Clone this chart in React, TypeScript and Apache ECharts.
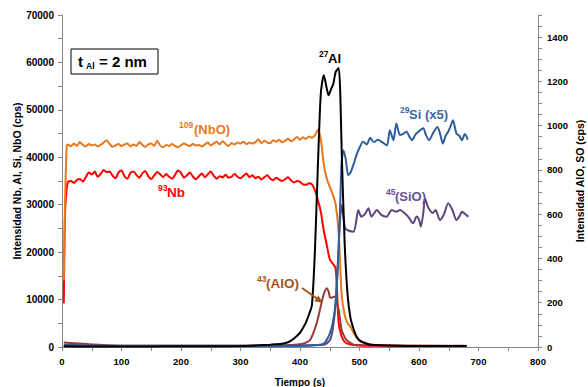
import { useEffect, useRef } from "react";
import * as echarts from "echarts";

// ---------- time grids (s) ----------
const grid = (a: number, b: number, s: number) => {
  const out: number[] = [];
  for (let t = a; t <= b; t += s) out.push(t);
  return out;
};

const timeNb = [3, 5, 8, ...grid(10, 500, 5), 510, 520, 560, 600, 640, 680];

// 93Nb (left axis, cps)
const nbValues = [
  9200, 28000, 33500,
  34800, 35000, 34600, 35200, 35400, 34900, 35800, 36800, 36400, 37000,
  35900, 36500, 37300, 36900, 37000, 36100, 35600, 36800, 37200, 36000,
  35500, 36700, 37000, 36300, 35700, 36600, 37100, 36000, 35400, 36200,
  36900, 36400, 35800, 36500, 35900, 35500, 36300, 37200, 36700, 35700,
  36200, 36800, 35900, 35400, 36000, 36600, 35800, 36400, 37000, 36100,
  35500, 36000, 35800, 36300, 35700, 35900, 36500, 35900, 35600, 36100,
  36600, 35800, 36200, 35600, 35900, 35300, 35800, 36200, 35500, 35200,
  35700, 35300, 35000, 35400, 35800, 35100, 34700, 35000, 34800, 34300,
  34200, 34500, 34300, 33100, 31000, 28500, 24500, 21500, 18500, 17600,
  16500, 5000, 2200, 1100, 700, 500, 400, 350, 300,
  280, 250, 230, 220, 210, 200,
];

// 109(NbO) (left axis, cps)
const nboValues = [
  14000, 30000, 42500,
  42700, 42300, 42900, 42400, 43200, 42600, 42300, 42800, 42500, 42700,
  42300, 42600, 43100, 43600, 42800, 42200, 42500, 42800, 42400, 42700,
  42900, 42300, 42700, 42400, 43200, 42600, 42200, 42700, 42900, 42400,
  43500, 42500, 42100, 42600, 42400, 42800, 42400, 42100, 42500, 42900,
  42600, 42400, 42800, 42500, 42600, 42300, 42700, 43100, 42500, 42900,
  43300, 42700, 43400, 42800, 42400, 43000, 42700, 43100, 42900, 43300,
  42800, 43100, 42900, 43200, 43800, 43000, 43500, 43100, 43000, 43600,
  43300, 43700, 43100, 43500, 43900, 43400, 43800, 44300, 43700, 44200,
  43900, 44400, 44100, 44600, 45800, 43800, 38500, 35500, 33800, 32200,
  30000, 24000, 11000, 6800, 5000, 4200, 3000, 2000, 1300,
  800, 500, 300, 250, 230, 220,
];

// 27Al (left axis, cps)
const timeAl = [3, 50, 100, 150, 200, 250, 300, 330, 350, 370, 380, 390, 400, 405, 410, 415, 420, 425, 430, 435, 440, 445, 448, 452, 456, 460, 465, 468, 470, 475, 480, 485, 490, 495, 500, 510, 520, 560, 600, 680];
const alValues = [150, 100, 100, 120, 150, 150, 200, 350, 500, 700, 1000, 1800, 3000, 4000, 5200, 6800, 8800, 20000, 38000, 53500, 57300, 54500, 53100, 54300, 55500, 58000, 58800, 52000, 41500, 22000, 11000, 6000, 3800, 2200, 1400, 800, 450, 250, 200, 200];

// 29Si (x5) (left axis, cps)
const timeSi = [3, 100, 200, 300, 400, 430, 440, 445, 450, 455, 460, 465, 468, 470, 473, 477, 481, 485, 490, 495, 500, 506, 512, 518, 524, 531, 538, 546, 551, 557, 562, 568, 574, 579, 584, 588, 594, 599, 607, 612, 617, 624, 631, 636, 640, 645, 649, 653, 657, 663, 668, 672, 677, 682];
const siValues = [150, 150, 150, 150, 200, 400, 700, 1500, 2800, 5000, 9500, 21000, 32000, 39000, 41500, 39500, 36200, 36800, 38500, 40500, 42000, 43300, 42700, 44100, 43200, 43700, 43200, 42500, 45700, 43600, 47100, 44700, 45000, 45400, 44300, 43600, 44800, 45400, 46100, 44600, 43600, 45200, 46400, 44700, 42900, 44600, 45400, 46500, 47800, 45000, 44500, 43600, 44900, 43700];

// 45(SiO) (right axis, cps)
const timeSiO = [3, 100, 200, 300, 400, 440, 450, 455, 460, 464, 467, 470, 473, 476, 482, 490, 494, 498, 503, 509, 515, 520, 525, 529, 537, 546, 550, 554, 562, 568, 576, 583, 590, 596, 600, 603, 607, 610, 614, 618, 623, 628, 635, 642, 649, 656, 663, 668, 672, 678, 683];
const sioValues = [10, 6, 6, 6, 8, 10, 30, 80, 200, 400, 560, 642, 590, 536, 525, 521, 560, 619, 589, 600, 627, 589, 605, 619, 596, 589, 605, 619, 611, 619, 604, 585, 559, 590, 575, 544, 600, 672, 640, 619, 605, 619, 574, 600, 649, 620, 574, 590, 611, 600, 589];

// 43(AlO) (right axis, cps)
const timeAlO = [3, 100, 200, 300, 380, 400, 410, 417, 422, 428, 432, 436, 440, 445, 448, 451, 455, 459, 462, 465, 468, 470, 474, 478, 485, 490, 520, 600, 680];
const aloValues = [20, 6, 6, 6, 8, 12, 20, 32, 60, 107, 150, 197, 240, 265, 250, 222, 225, 228, 200, 167, 110, 77, 50, 32, 18, 10, 8, 6, 6];

const pairs = (t: number[], v: number[]) => t.map((x, i) => [x, v[i]]);

const FONT = "'Liberation Sans', Arial, sans-serif";
const AXIS_GRAY = "#868686";

export default function App() {
  const ref = useRef<HTMLDivElement>(null);

  useEffect(() => {
    document.body.style.margin = "0";
    if (!ref.current) return;
    const chart = echarts.init(ref.current, undefined, { renderer: "svg" });

    const label = (x: number, y: number, text: string, size: number, color: string, align = "left") => ({
      type: "text",
      x,
      y,
      z: 100,
      style: {
        text,
        fontSize: size,
        fontWeight: "bold",
        fontFamily: FONT,
        fill: color,
        textAlign: align,
        textVerticalAlign: "middle",
      },
    });

    const mkSeries = (name: string, data: number[][], color: string, yAxisIndex = 0, z = 2) => ({
      name,
      type: "line",
      data,
      yAxisIndex,
      showSymbol: false,
      smooth: 0.25,
      z,
      lineStyle: { color, width: 2 },
      itemStyle: { color },
    });

    const tickLabel = { color: "#000", fontWeight: "bold", fontFamily: FONT };

    chart.setOption({
      animation: false,
      grid: { left: 62, right: 50, top: 15, bottom: 40, containLabel: false, outerBoundsMode: "none" },
      xAxis: {
        type: "value",
        min: 0,
        max: 800,
        interval: 100,
        name: "Tiempo (s)",
        nameLocation: "middle",
        nameGap: 30,
        nameMoveOverlap: false,
        nameTextStyle: { color: "#000", fontWeight: "bold", fontSize: 10, fontFamily: FONT },
        axisLine: { show: true, lineStyle: { color: AXIS_GRAY, width: 1 } },
        axisTick: { show: true, length: 4, lineStyle: { color: AXIS_GRAY } },
        minorTick: { show: true, splitNumber: 2, length: 4, lineStyle: { color: AXIS_GRAY } },
        splitLine: { show: false },
        axisLabel: { ...tickLabel, fontSize: 9.5, margin: 9, formatter: (v: number) => String(v) },
      },
      yAxis: [
        {
          type: "value",
          min: 0,
          max: 70000,
          interval: 10000,
          position: "left",
          name: "Intensidad Nb, Al, Si, NbO (cps)",
          nameLocation: "middle",
          nameRotate: 90,
          nameGap: 40,
          nameMoveOverlap: false,
          nameTextStyle: { color: "#000", fontWeight: "bold", fontSize: 10.5, fontFamily: FONT },
          axisLine: { show: true, lineStyle: { color: AXIS_GRAY, width: 1 } },
          axisTick: { show: true, length: 4, lineStyle: { color: AXIS_GRAY } },
          minorTick: { show: true, splitNumber: 2, length: 4, lineStyle: { color: AXIS_GRAY } },
          splitLine: { show: false },
          axisLabel: { ...tickLabel, fontSize: 10, margin: 8, formatter: (v: number) => String(v) },
        },
        {
          type: "value",
          min: 0,
          max: 1500,
          interval: 200,
          position: "right",
          name: "Intensidad AlO, SO (cps)",
          nameLocation: "middle",
          nameRotate: 90,
          nameGap: 36,
          nameMoveOverlap: false,
          nameTextStyle: { color: "#000", fontWeight: "bold", fontSize: 10.5, fontFamily: FONT },
          axisLine: { show: true, lineStyle: { color: AXIS_GRAY, width: 1 } },
          axisTick: { show: true, length: 4, lineStyle: { color: AXIS_GRAY } },
          minorTick: { show: true, splitNumber: 4, length: 4, lineStyle: { color: AXIS_GRAY } },
          splitLine: { show: false },
          axisLabel: {
            ...tickLabel,
            fontSize: 9.5,
            margin: 9,
            formatter: (v: number) => (v > 1400 ? "" : String(v)),
          },
        },
      ],
      series: [
        mkSeries("93Nb", pairs(timeNb, nbValues), "#FF0000", 0, 2),
        mkSeries("109(NbO)", pairs(timeNb, nboValues), "#E8781E", 0, 3),
        mkSeries("43(AlO)", pairs(timeAlO, aloValues), "#993A36", 1, 4),
        mkSeries("45(SiO)", pairs(timeSiO, sioValues), "#5C4680", 1, 5),
        mkSeries("29Si (x5)", pairs(timeSi, siValues), "#2F5F98", 0, 6),
        mkSeries("27Al", pairs(timeAl, alValues), "#000000", 0, 7),
      ],
      graphic: [
        {
          type: "rect",
          z: 99,
          shape: { x: 71, y: 49, width: 87, height: 25 },
          style: { fill: "#fff", stroke: "#000", lineWidth: 1 },
        },
        label(78, 61, "t", 15, "#000"),
        label(86, 66, "Al", 8.5, "#000"),
        label(99, 61, "= 2 nm", 15, "#000"),

        label(319, 54, "27", 8.5, "#000"),
        label(328, 58, "Al", 13, "#000"),

        label(179, 125, "109", 8.5, "#E8781E"),
        label(194, 129, "(NbO)", 13, "#E8781E"),

        label(158, 188, "93", 8.5, "#FF0000"),
        label(167, 192, "Nb", 13.5, "#FF0000"),

        label(400, 110, "29", 8.5, "#3A6BA5"),
        label(409, 114, "Si (x5)", 13, "#3A6BA5"),

        label(386, 192, "45", 8.5, "#6B5090"),
        label(395, 196, "(SiO)", 13, "#6B5090"),

        label(257, 279, "43", 8.5, "#A0561E"),
        label(266, 283, "(AlO)", 13.5, "#A0561E"),

        {
          type: "line",
          z: 100,
          shape: { x1: 302, y1: 288, x2: 317, y2: 298.5 },
          style: { stroke: "#A0561E", lineWidth: 2 },
        },
        {
          type: "polygon",
          z: 100,
          shape: { points: [[323, 303], [314.4, 301.3], [318.4, 295.5]] },
          style: { fill: "#A0561E" },
        },
      ],
    });

    return () => chart.dispose();
  }, []);

  return <div ref={ref} style={{ width: 588, height: 387 }} />;
}
